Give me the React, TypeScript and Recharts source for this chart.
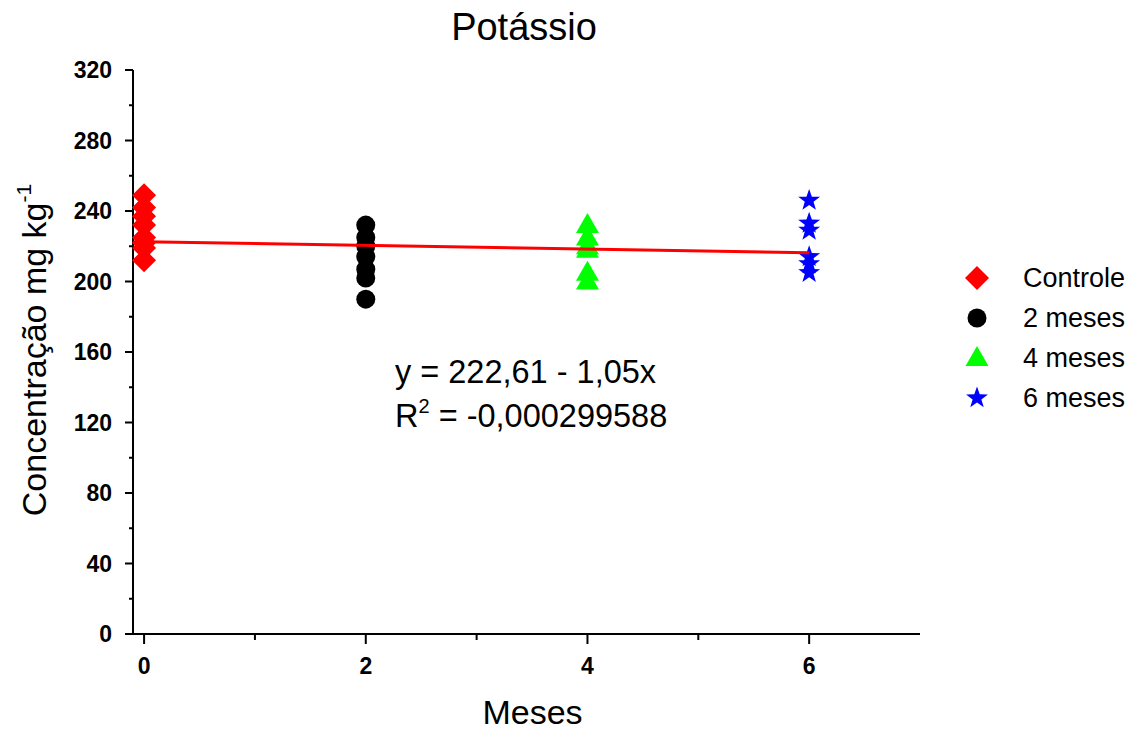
import { ScatterChart, Scatter, XAxis, YAxis, Legend, Label } from 'recharts'

const FONT = '"Liberation Sans", Arial, Helvetica, sans-serif'

// meses de cada grupo
const MONTHS = [0, 2, 4, 6]
const SERIES_NAMES = ['Controle', '2 meses', '4 meses', '6 meses']
const SERIES_COLORS = ['#ff0000', '#000000', '#00ff00', '#0000ff']

// concentração de potássio (mg kg-1)
const controle = [249, 242, 237, 232, 225, 222, 219, 212]
const meses2 = [232, 225, 220, 214, 207, 202, 190]
const meses4 = [232, 225, 220, 218, 205, 200]
const meses6 = [246, 233, 229, 214, 210, 205]

// reta ajustada y = 222,61 - 1,05x
const fitX = [0, 6]
const fitY = [222.61, 216.31]

const xTicks = [0, 1, 2, 3, 4, 5, 6]
const yTicks = [0, 20, 40, 60, 80, 100, 120, 140, 160, 180, 200, 220, 240, 260, 280, 300, 320]

const toPoints = (x: number, values: number[]) => values.map((y) => ({ x, y }))
const seriesData = [controle, meses2, meses4, meses6].map((v, i) => toPoints(MONTHS[i], v))
const fitData = fitX.map((x, i) => ({ x, y: fitY[i] }))

function Diamond({ cx, cy, fill }: any) {
  const r = 12
  return <polygon points={`${cx},${cy - r} ${cx + r},${cy} ${cx},${cy + r} ${cx - r},${cy}`} fill={fill} />
}
function Dot({ cx, cy, fill }: any) {
  return <circle cx={cx} cy={cy} r={9.5} fill={fill} />
}
function Tri({ cx, cy, fill }: any) {
  return <polygon points={`${cx},${cy - 12} ${cx + 11.5},${cy + 8} ${cx - 11.5},${cy + 8}`} fill={fill} />
}
function Star({ cx, cy, fill }: any) {
  const pts: string[] = []
  for (let k = 0; k < 10; k++) {
    const r = k % 2 === 0 ? 11.5 : 4.6
    const a = -Math.PI / 2 + (k * Math.PI) / 5
    pts.push(`${cx + r * Math.cos(a)},${cy + r * Math.sin(a)}`)
  }
  return <polygon points={pts.join(' ')} fill={fill} />
}
const SHAPES = [Diamond, Dot, Tri, Star]

const Y_TICK_SIZE = 8
const Y_TICK_MARGIN = 13
const X_TICK_SIZE = 10
const X_TICK_MARGIN = 14

function YTick({ x, y, payload }: any) {
  const major = payload.value % 40 === 0
  const axisX = x + Y_TICK_SIZE + Y_TICK_MARGIN
  return (
    <g>
      <line x1={axisX} x2={axisX - (major ? 8 : 4)} y1={y} y2={y} stroke="#000" strokeWidth={2} />
      {major && (
        <text x={x} y={y} dy="0.36em" textAnchor="end" fontFamily={FONT} fontWeight="bold" fontSize={23} fill="#000">
          {payload.value}
        </text>
      )}
    </g>
  )
}

function XTick({ x, y, payload }: any) {
  const major = payload.value % 2 === 0
  const axisY = y - X_TICK_SIZE - X_TICK_MARGIN
  return (
    <g>
      <line x1={x} x2={x} y1={axisY} y2={axisY + (major ? 10 : 6)} stroke="#000" strokeWidth={2} />
      {major && (
        <text x={x} y={y} dy="0.71em" textAnchor="middle" fontFamily={FONT} fontWeight="bold" fontSize={23} fill="#000">
          {payload.value}
        </text>
      )}
    </g>
  )
}

function LegendBox() {
  return (
    <div style={{ fontFamily: FONT, fontSize: 27, color: '#000' }}>
      {SERIES_NAMES.map((name, i) => {
        const Shape = SHAPES[i]
        return (
          <div key={name} style={{ height: 40, display: 'flex', alignItems: 'center' }}>
            <svg width={28} height={28} style={{ marginLeft: 5, flex: 'none' }}>
              <Shape cx={14} cy={14} fill={SERIES_COLORS[i]} />
            </svg>
            <span style={{ marginLeft: 32, lineHeight: 1 }}>{name}</span>
          </div>
        )
      })}
    </div>
  )
}

export default function App() {
  return (
    <div style={{ position: 'absolute', left: 0, top: 0, width: 1135, height: 731, background: '#fff' }}>
      <ScatterChart width={1135} height={731} margin={{ top: 70, right: 215, bottom: 47, left: 63 }}>
        <XAxis
          dataKey="x"
          type="number"
          domain={[-0.1, 7]}
          ticks={xTicks}
          interval={0}
          height={50}
          tickSize={X_TICK_SIZE}
          tickMargin={X_TICK_MARGIN}
          tickLine={false}
          tick={<XTick />}
          axisLine={{ stroke: '#000', strokeWidth: 2 }}
        >
          <Label
            content={({ viewBox }: any) => (
              <text x={viewBox.x + viewBox.width / 2 + 6} y={724} textAnchor="middle" fontFamily={FONT} fontSize={34} fill="#000">
                Meses
              </text>
            )}
          />
        </XAxis>
        <YAxis
          dataKey="y"
          type="number"
          domain={[0, 320]}
          ticks={yTicks}
          interval={0}
          width={70}
          tickSize={Y_TICK_SIZE}
          tickMargin={Y_TICK_MARGIN}
          tickLine={false}
          tick={<YTick />}
          axisLine={{ stroke: '#000', strokeWidth: 2 }}
        >
          <Label
            content={({ viewBox }: any) => {
              const cy = viewBox.y + viewBox.height / 2 - 2
              return (
                <text x={46} y={cy} transform={`rotate(-90 46 ${cy})`} textAnchor="middle" fontFamily={FONT} fontSize={34} fill="#000">
                  Concentração mg kg
                  <tspan fontSize={21} dy={-15}>-1</tspan>
                </text>
              )
            }}
          />
        </YAxis>
        <XAxis xAxisId="top" orientation="top" type="number" domain={[0, 1]} ticks={[]} height={0} tickLine={false} tick={false} axisLine={{ stroke: '#000', strokeWidth: 2 }} />
        <YAxis yAxisId="right" orientation="right" type="number" domain={[0, 1]} ticks={[]} width={0} tickLine={false} tick={false} axisLine={{ stroke: '#000', strokeWidth: 2 }} />
        <Legend layout="vertical" align="center" verticalAlign="middle" wrapperStyle={{ left: 958, top: 258, width: 177 }} content={() => <LegendBox />} />
        {seriesData.map((data, i) => {
          const Shape = SHAPES[i]
          return (
            <Scatter
              key={SERIES_NAMES[i]}
              name={SERIES_NAMES[i]}
              data={data}
              fill={SERIES_COLORS[i]}
              shape={(p: any) => <Shape cx={p.cx} cy={p.cy} fill={SERIES_COLORS[i]} />}
              isAnimationActive={false}
            />
          )
        })}
        <Scatter
          name="ajuste"
          data={fitData}
          line={{ stroke: '#ff0000', strokeWidth: 3 }}
          shape={() => <g />}
          legendType="none"
          isAnimationActive={false}
        />
      </ScatterChart>
      <svg width={1135} height={731} style={{ position: 'absolute', left: 0, top: 0, pointerEvents: 'none' }}>
        <text x={524} y={40} textAnchor="middle" fontFamily={FONT} fontSize={38} fill="#000">
          Potássio
        </text>
        <text x={395} y={383} fontFamily={FONT} fontSize={32.5} fill="#000">
          y = 222,61 - 1,05x
        </text>
        <text x={395} y={427} fontFamily={FONT} fontSize={32.5} fill="#000">
          R<tspan fontSize={20} dy={-14}>2</tspan>
          <tspan dy={14}> = -0,000299588</tspan>
        </text>
      </svg>
    </div>
  )
}
